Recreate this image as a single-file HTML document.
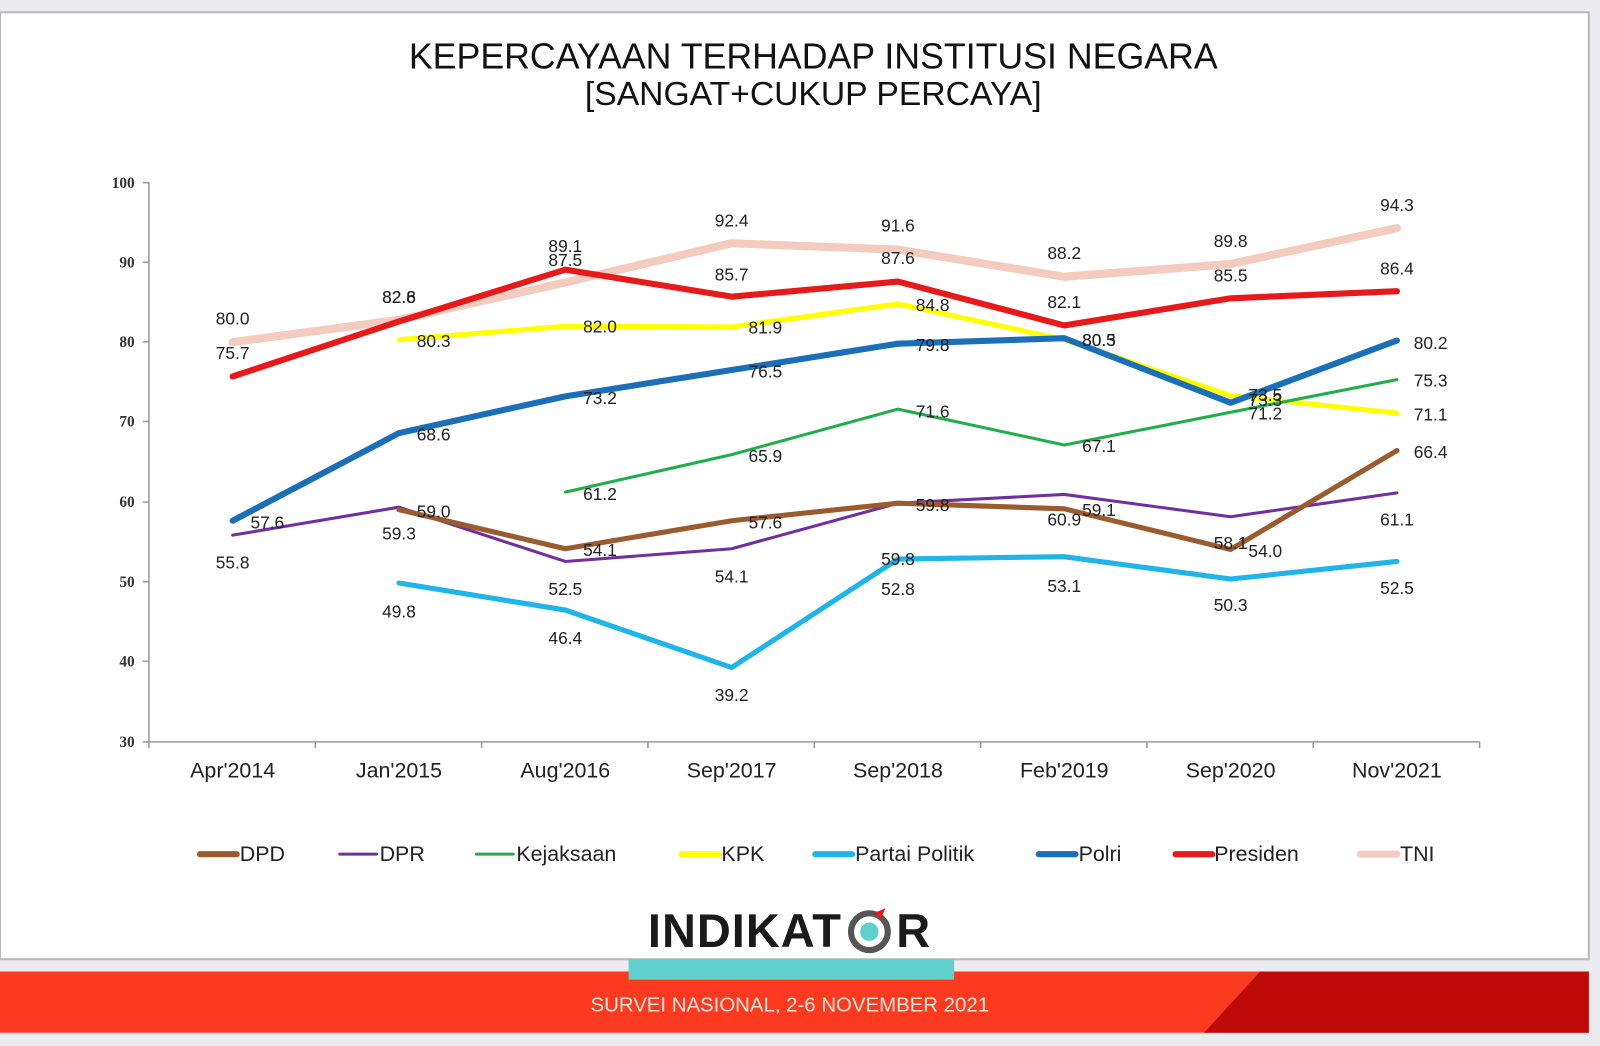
<!DOCTYPE html>
<html><head><meta charset="utf-8"><style>
html,body{margin:0;padding:0;background:#ececf0;}
body{width:1600px;height:1046px;position:relative;overflow:hidden;font-family:"Liberation Sans",sans-serif;}
</style></head><body>
<svg width="1600" height="1046" viewBox="0 0 1568 1025" preserveAspectRatio="none" xmlns="http://www.w3.org/2000/svg" style="position:absolute;left:0;top:0">
<rect x="0" y="0" width="1568" height="1025" fill="#ececf0"/>
<rect x="0" y="12" width="1557" height="928" fill="#ffffff" stroke="#b8b8b8" stroke-width="2"/>
<!-- footer -->
<rect x="0" y="952" width="1557" height="60" fill="#fb3a1f"/>
<polygon points="1235,952 1557,952 1557,1012 1180,1012" fill="#bf0a0a"/>
<rect x="616" y="940" width="319" height="20" fill="#5fd0cc"/>
<text x="774" y="991" font-size="20" fill="#ffe6dd" text-anchor="middle" font-family="Liberation Sans Narrow, Liberation Sans, sans-serif">SURVEI NASIONAL, 2-6 NOVEMBER 2021</text>
<!-- logo -->
<text x="730" y="928" font-size="46" font-weight="bold" fill="#1a1a1a" text-anchor="middle" font-family="Liberation Sans Narrow, Liberation Sans, sans-serif" letter-spacing="1">INDIKAT</text>
<circle cx="852" cy="913" r="18" fill="none" stroke="#555" stroke-width="6"/>
<circle cx="852" cy="913" r="9" fill="#5fd0cc"/>
<polygon points="858,894 868,890 862,902" fill="#e8191b"/>
<text x="895" y="928" font-size="46" font-weight="bold" fill="#1a1a1a" text-anchor="middle" font-family="Liberation Sans Narrow, Liberation Sans, sans-serif">R</text>
<!-- title -->
<text x="797" y="67" font-size="35" fill="#111" text-anchor="middle">KEPERCAYAAN TERHADAP INSTITUSI NEGARA</text>
<text x="797" y="103" font-size="33" fill="#111" text-anchor="middle">[SANGAT+CUKUP PERCAYA]</text>
<!-- axes -->
<g stroke="#999" stroke-width="1.5" fill="none">
<line x1="146" y1="179" x2="146" y2="727"/>
<line x1="146" y1="727" x2="1450" y2="727"/>
<line x1="140" y1="179" x2="146" y2="179"/><line x1="140" y1="257" x2="146" y2="257"/><line x1="140" y1="335" x2="146" y2="335"/><line x1="140" y1="413" x2="146" y2="413"/><line x1="140" y1="492" x2="146" y2="492"/><line x1="140" y1="570" x2="146" y2="570"/><line x1="140" y1="648" x2="146" y2="648"/><line x1="140" y1="727" x2="146" y2="727"/>
<line x1="146" y1="727" x2="146" y2="733"/><line x1="309" y1="727" x2="309" y2="733"/><line x1="472" y1="727" x2="472" y2="733"/><line x1="635" y1="727" x2="635" y2="733"/><line x1="798" y1="727" x2="798" y2="733"/><line x1="961" y1="727" x2="961" y2="733"/><line x1="1124" y1="727" x2="1124" y2="733"/><line x1="1287" y1="727" x2="1287" y2="733"/><line x1="1450" y1="727" x2="1450" y2="733"/>
</g>
<g font-family="Liberation Serif, serif" font-weight="bold" font-size="15" fill="#333" text-anchor="end">
<text x="132" y="184">100</text><text x="132" y="262">90</text><text x="132" y="340">80</text><text x="132" y="418">70</text><text x="132" y="497">60</text><text x="132" y="575">50</text><text x="132" y="653">40</text><text x="132" y="732">30</text>
</g>
<g font-size="21" fill="#222" text-anchor="middle">
<text x="228" y="762">Apr'2014</text><text x="391" y="762">Jan'2015</text><text x="554" y="762">Aug'2016</text><text x="717" y="762">Sep'2017</text><text x="880" y="762">Sep'2018</text><text x="1043" y="762">Feb'2019</text><text x="1206" y="762">Sep'2020</text><text x="1369" y="762">Nov'2021</text>
</g>
<!-- series -->
<g fill="none" stroke-linejoin="round" stroke-linecap="round">
<polyline stroke="#f4cbbf" stroke-width="8" points="228,335.3 391,313.4 554,276.7 717,238.4 880,244.6 1043,271.2 1206,258.7 1369,223.5"/>
<polyline stroke="#e8191b" stroke-width="6" points="228,368.9 391,315 554,264.2 717,290.7 880,275.9 1043,318.9 1206,292.3 1369,285.3"/>
<polyline stroke="#ffff00" stroke-width="5" points="391,332.9 554,319.7 717,320.4 880,297.8 1043,332.9 1206,387.6 1369,404.8"/>
<polyline stroke="#1b6fb8" stroke-width="6" points="228,510.3 391,424.4 554,388.4 717,362.6 880,336.8 1043,331.4 1206,394.7 1369,333.7"/>
<polyline stroke="#1fae4a" stroke-width="3" points="554,482.2 717,445.5 880,400.9 1043,436.1 1206,404 1369,372"/>
<polyline stroke="#7030a0" stroke-width="3" points="228,524.4 391,497 554,550.2 717,537.7 880,493.1 1043,484.5 1206,506.4 1369,483"/>
<polyline stroke="#9a5b2e" stroke-width="5" points="391,499.4 554,537.7 717,510.3 880,493.1 1043,498.6 1206,538.4 1369,441.5"/>
<polyline stroke="#1fb4ea" stroke-width="5" points="391,571.3 554,597.8 717,654.1 880,547.8 1043,545.5 1206,567.4 1369,550.2"/>
</g>
<!-- labels -->
<g font-size="17" fill="#222" text-anchor="middle" dominant-baseline="central">
<text x="228" y="312">80.0</text><text x="391" y="291">82.8</text><text x="554" y="255">87.5</text><text x="717" y="216">92.4</text><text x="880" y="221">91.6</text><text x="1043" y="248">88.2</text><text x="1206" y="236">89.8</text><text x="1369" y="201">94.3</text>
<text x="228" y="346">75.7</text><text x="391" y="291">82.6</text><text x="554" y="241">89.1</text><text x="717" y="269">85.7</text><text x="880" y="253">87.6</text><text x="1043" y="296">82.1</text><text x="1206" y="270">85.5</text><text x="1369" y="263">86.4</text>
<text x="425" y="334">80.3</text><text x="588" y="320">82.0</text><text x="750" y="321">81.9</text><text x="914" y="299">84.8</text><text x="1077" y="333">80.3</text><text x="1240" y="392">73.3</text><text x="1402" y="406">71.1</text>
<text x="262" y="512">57.6</text><text x="425" y="426">68.6</text><text x="588" y="390">73.2</text><text x="750" y="364">76.5</text><text x="914" y="338">79.8</text><text x="1077" y="333">80.5</text><text x="1240" y="387">73.5</text><text x="1402" y="336">80.2</text>
<text x="588" y="484">61.2</text><text x="750" y="447">65.9</text><text x="914" y="403">71.6</text><text x="1077" y="437">67.1</text><text x="1240" y="405">71.2</text><text x="1402" y="373">75.3</text>
<text x="425" y="501">59.0</text><text x="588" y="539">54.1</text><text x="750" y="512">57.6</text><text x="914" y="495">59.8</text><text x="1077" y="500">59.1</text><text x="1240" y="540">54.0</text><text x="1402" y="443">66.4</text>
<text x="228" y="551">55.8</text><text x="391" y="523">59.3</text><text x="554" y="577">52.5</text><text x="717" y="565">54.1</text><text x="880" y="548">59.8</text><text x="1043" y="509">60.9</text><text x="1206" y="532">58.1</text><text x="1369" y="509">61.1</text>
<text x="391" y="599">49.8</text><text x="554" y="625">46.4</text><text x="717" y="681">39.2</text><text x="880" y="577">52.8</text><text x="1043" y="574">53.1</text><text x="1206" y="593">50.3</text><text x="1369" y="576">52.5</text>
</g>
<!-- legend -->
<g stroke-width="6" stroke-linecap="round">
<line x1="196" y1="837" x2="232" y2="837" stroke="#9a5b2e"/>
<line x1="333" y1="837" x2="369" y2="837" stroke="#7030a0" stroke-width="3"/>
<line x1="467" y1="837" x2="503" y2="837" stroke="#1fae4a" stroke-width="3"/>
<line x1="668" y1="837" x2="704" y2="837" stroke="#ffff00"/>
<line x1="799" y1="837" x2="835" y2="837" stroke="#1fb4ea"/>
<line x1="1018" y1="837" x2="1054" y2="837" stroke="#1b6fb8"/>
<line x1="1152" y1="837" x2="1188" y2="837" stroke="#e8191b"/>
<line x1="1333" y1="837" x2="1369" y2="837" stroke="#f4cbbf" stroke-width="7"/>
</g>
<g font-size="21" fill="#222" dominant-baseline="central">
<text x="235" y="837">DPD</text><text x="372" y="837">DPR</text><text x="506" y="837">Kejaksaan</text><text x="707" y="837">KPK</text><text x="838" y="837">Partai Politik</text><text x="1057" y="837">Polri</text><text x="1190" y="837">Presiden</text><text x="1372" y="837">TNI</text>
</g>
</svg>
</body></html>
